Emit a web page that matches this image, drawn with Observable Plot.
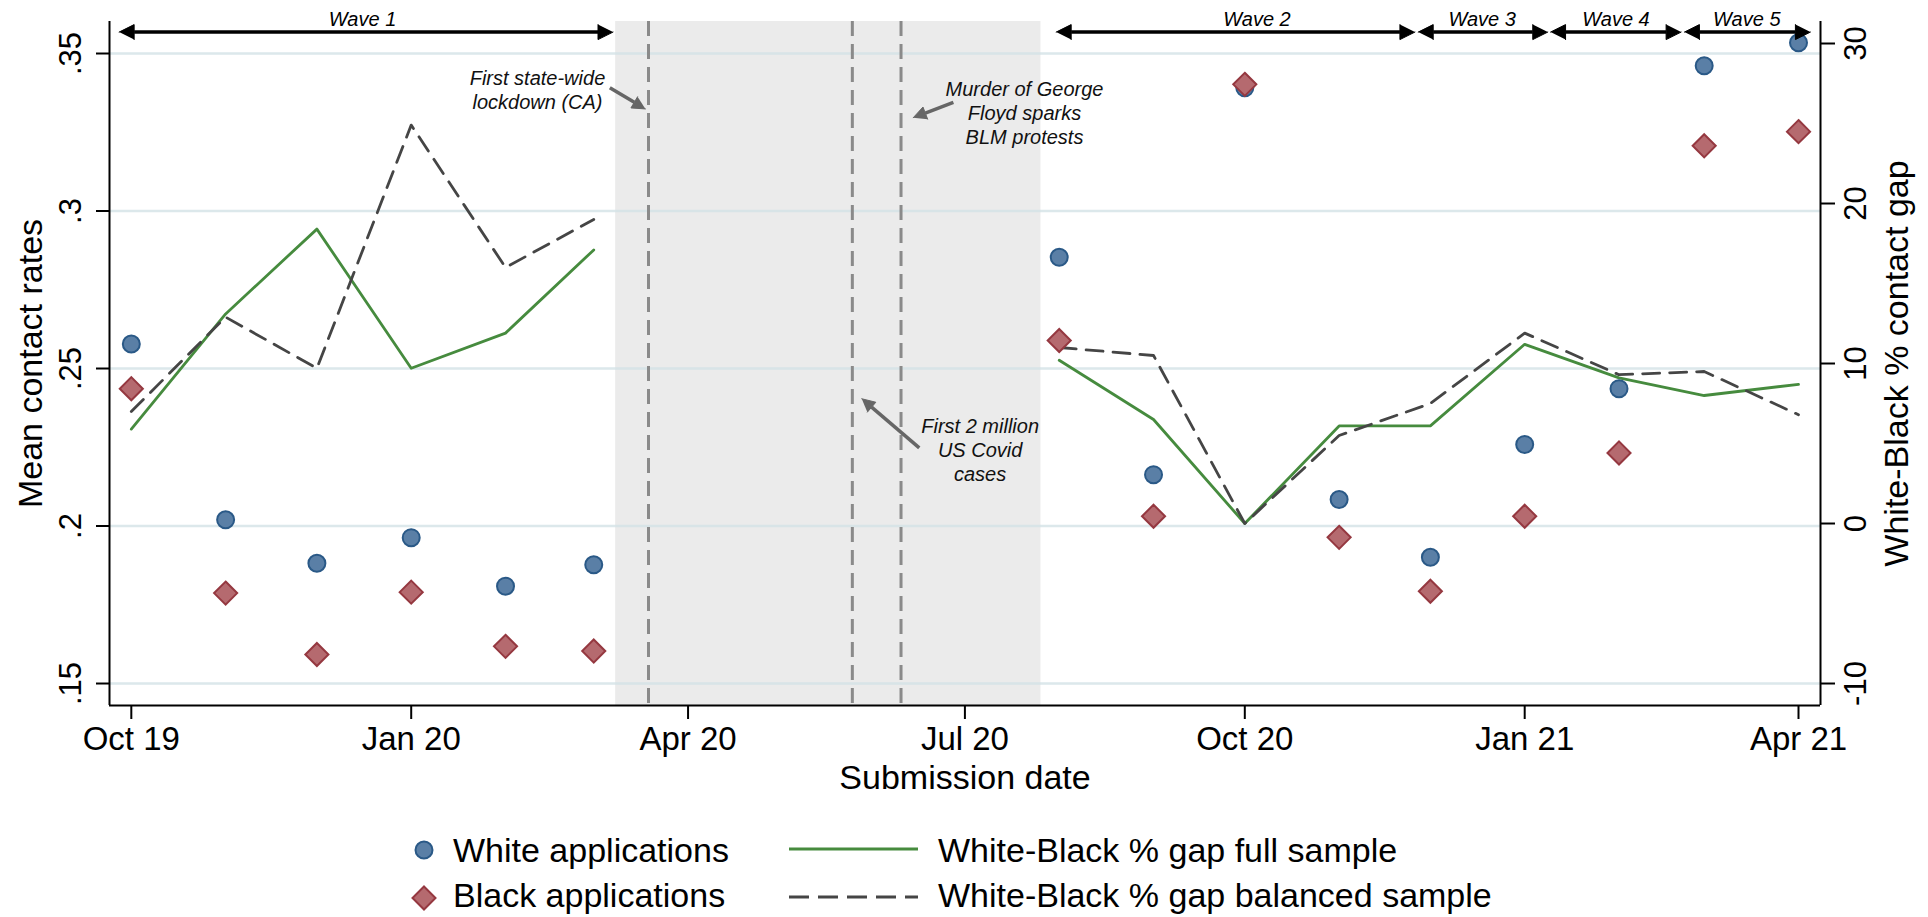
<!DOCTYPE html>
<html><head><meta charset="utf-8">
<script src="https://cdn.jsdelivr.net/npm/d3@7"></script>
<script src="https://cdn.jsdelivr.net/npm/@observablehq/plot@0.6"></script>
<style>
body{margin:0;background:#fff;font-family:"Liberation Sans",Arial,Helvetica,sans-serif;}
#wrap{position:relative;width:1928px;height:917px;overflow:hidden;background:#fff;}
#chart{position:absolute;left:0;top:0;}
.leg{position:absolute;font-size:34px;line-height:34px;color:#000;white-space:nowrap;}
.sym{position:absolute;left:0;top:0;}
</style></head><body>
<div id="wrap"><div id="chart"></div>
<svg class="sym" width="1928" height="917" id="legsym"></svg>
<div id="legend"></div></div>
<script>
// ---------------- data ----------------
const months = ["2019-10-01","2019-11-01","2019-12-01","2020-01-01","2020-02-01","2020-03-01",
  "2020-08-01","2020-09-01","2020-10-01","2020-11-01","2020-12-01","2021-01-01","2021-02-01","2021-03-01","2021-04-01"];
const whiteRates = [0.2578,0.2020,0.1882,0.1963,0.1809,0.1877,0.2853,0.2163,0.3391,0.2084,0.1901,0.2259,0.2436,0.3461,0.3534];
const blackRates = [0.2436,0.1787,0.1592,0.1790,0.1618,0.1603,0.2589,0.2031,0.3402,0.1964,0.1793,0.2031,0.2232,0.3207,0.3252];
const gapFull     = [5.9,13.1,18.4,9.7,11.9,17.1, 10.2,6.5,0.0,6.1,6.1,11.2,9.1,8.0,8.7];
const gapBalanced = [7.0,12.9,9.7,24.9,16.0,19.0, 11.0,10.5,0.0,5.5,7.5,11.9,9.3,9.5,6.8];
const periods = ["pre","pre","pre","pre","pre","pre","post","post","post","post","post","post","post","post","post"];

const leftTicks = [0.15,0.2,0.25,0.3,0.35];
const leftTickLabels = [".15",".2",".25",".3",".35"];
const rightTicks = [-10,0,10,20,30];
const xTicks = ["2019-10-01","2020-01-01","2020-04-01","2020-07-01","2020-10-01","2021-01-01","2021-04-01"];

const waveNames = ["Wave 1","Wave 2","Wave 3","Wave 4","Wave 5"];
const waveStarts = ["2019-09-27","2020-07-31","2020-11-27","2021-01-09T12:00Z","2021-02-22T12:00Z"];
const waveEnds   = ["2020-03-07T08:00Z","2020-11-25T22:00Z","2021-01-08T14:00Z","2021-02-21T10:00Z","2021-04-04T22:00Z"];
const waveLabelDates = ["2019-12-16","2020-10-05","2020-12-18","2021-01-31","2021-03-15"];

const shadeStart = "2020-03-08T05:00Z", shadeEnd = "2020-07-26";
const eventDates = ["2020-03-19","2020-05-25","2020-06-10"];

const noteTexts = ["First state-wide\nlockdown (CA)", "Murder of George\nFloyd sparks\nBLM protests", "First 2 million\nUS Covid\ncases"];
const noteDates = ["2020-02-11T12:00Z","2020-07-20T14:00Z","2020-07-06"];
const noteValues = [0.3387, 0.3312, 0.2244];
const arrowFromDates = ["2020-03-06T07:00Z","2020-06-27T05:00Z","2020-06-16"];
const arrowFromValues = [0.3391, 0.3345, 0.2248];
const arrowToDates = ["2020-03-18","2020-06-14","2020-05-28T02:00Z"];
const arrowToValues = [0.3324, 0.3296, 0.2404];

// ---------------- layout ----------------
const W = 1928, H = 800, ML = 109, MR = 108, MT = 21, MB = 95;
const DAY = 864e5;
const xDomain = [new Date(Date.UTC(2019,9,1) - 7.17*DAY), new Date(Date.UTC(2021,3,1) + 7.23*DAY)];
const yDomain = [0.14302, 0.36016];
const ratePerPoint = 16/3150;            // right axis: gap points -> left-axis units
const gapToRate = g => 0.15 + (g + 10) * ratePerPoint;
const waveArrowY = 0.3568, waveLabelY = 0.3586;
const font = '"Liberation Sans", Arial, Helvetica, sans-serif';

const sx = d3.scaleUtc(xDomain, [ML, W - MR]);
const sy = d3.scaleLinear(yDomain, [H - MB, MT]);

const rows = months.map((m, i) => ({
  date: new Date(m), white: whiteRates[i], black: blackRates[i],
  full: gapToRate(gapFull[i]), bal: gapToRate(gapBalanced[i]), period: periods[i]
}));

// arrow helper: returns shaft end (base of head) and head polygon in data coords
function arrowParts(x1, y1, x2, y2, L, hb, id) {
  const p1 = [sx(x1), sy(y1)], p2 = [sx(x2), sy(y2)];
  const dx = p2[0]-p1[0], dy = p2[1]-p1[1], len = Math.hypot(dx, dy);
  const u = [dx/len, dy/len], n = [-u[1], u[0]];
  const b = [p2[0]-L*u[0], p2[1]-L*u[1]];
  const pts = [p2, [b[0]+hb*n[0], b[1]+hb*n[1]], [b[0]-hb*n[0], b[1]-hb*n[1]]];
  return {
    base: {x: sx.invert(b[0]), y: sy.invert(b[1])},
    head: pts.map(p => ({id, x: sx.invert(p[0]), y: sy.invert(p[1])}))
  };
}

// wave arrows (double-headed)
const waveShafts = [], waveHeads = [];
waveNames.forEach((w, i) => {
  const s = new Date(waveStarts[i]), e = new Date(waveEnds[i]);
  const a = arrowParts(s, waveArrowY, e, waveArrowY, 15, 7.5, w + "e");
  const b = arrowParts(e, waveArrowY, s, waveArrowY, 15, 7.5, w + "s");
  waveShafts.push({x1: b.base.x, x2: a.base.x, y: waveArrowY});
  waveHeads.push(...a.head, ...b.head);
});
const waves = waveNames.map((w, i) => ({name: w, x: new Date(waveLabelDates[i])}));

// annotation arrows
const noteShafts = [], noteHeads = [];
noteTexts.forEach((t, i) => {
  const f = new Date(arrowFromDates[i]), to = new Date(arrowToDates[i]);
  const a = arrowParts(f, arrowFromValues[i], to, arrowToValues[i], 13, 6.5, "n" + i);
  noteShafts.push({x1: f, y1: arrowFromValues[i], x2: a.base.x, y2: a.base.y});
  noteHeads.push(...a.head);
});
const notes = noteTexts.map((t, i) => ({text: t, x: new Date(noteDates[i]), y: noteValues[i]}));

const chart = Plot.plot({
  width: W, height: H,
  marginLeft: ML, marginRight: MR, marginTop: MT, marginBottom: MB,
  style: {fontFamily: font, fontSize: "31px", background: "white", color: "black"},
  x: {type: "utc", domain: xDomain},
  y: {domain: yDomain},
  marks: [
    Plot.rect([{a: new Date(shadeStart), b: new Date(shadeEnd)}], {x1: "a", x2: "b", y1: () => yDomain[0], y2: () => yDomain[1], fill: "#ebebeb"}),
    Plot.ruleY(leftTicks, {stroke: "#d3e2e6", strokeWidth: 2.5, strokeOpacity: 0.8}),
    Plot.ruleX(eventDates.map(d => new Date(d)), {stroke: "#8a8a8a", strokeWidth: 3, strokeDasharray: "15,8"}),
    Plot.line(rows, {x: "date", y: "full", z: "period", stroke: "#468b3e", strokeWidth: 2.8}),
    Plot.line(rows, {x: "date", y: "bal", z: "period", stroke: "#454545", strokeWidth: 2.8, strokeDasharray: "17,10"}),
    Plot.dot(rows, {x: "date", y: "white", r: 8.5, symbol: "circle", fill: "#5a7fa6", stroke: "#2a5987", strokeWidth: 2}),
    Plot.dot(rows, {x: "date", y: "black", r: 10.4, symbol: d3.symbolDiamond2 || "diamond", fill: "#b56a6f", stroke: "#953840", strokeWidth: 2}),
    // wave arrows
    Plot.link(waveShafts, {x1: "x1", x2: "x2", y1: "y", y2: "y", stroke: "black", strokeWidth: 3.5}),
    Plot.line(waveHeads, {x: "x", y: "y", z: "id", fill: "black", stroke: "black", strokeWidth: 1}),
    Plot.text(waves, {x: "x", y: () => waveLabelY, text: "name", fontStyle: "italic", fontSize: 20, lineAnchor: "bottom", fill: "black"}),
    // annotations
    Plot.link(noteShafts, {x1: "x1", y1: "y1", x2: "x2", y2: "y2", stroke: "#666", strokeWidth: 3.5}),
    Plot.line(noteHeads, {x: "x", y: "y", z: "id", fill: "#666", stroke: "#666", strokeWidth: 1}),
    Plot.text(notes, {x: "x", y: "y", text: "text", fontStyle: "italic", fontSize: 20, lineHeight: 1.2, lineAnchor: "middle", fill: "#111"}),
    // frame lines
    Plot.ruleX(xDomain, {stroke: "black", strokeWidth: 2}),
    Plot.ruleY([yDomain[0]], {stroke: "black", strokeWidth: 2}),
    // axes
    Plot.axisX(xTicks.map(d => new Date(d)), {tickSize: 14, tickPadding: 7, tickFormat: d3.utcFormat("%b %y"), fontSize: 33, strokeWidth: 2, label: null}),
    Plot.axisY(leftTicks, {anchor: "left", tickSize: 13, tickPadding: 16, tickRotate: -90, fontSize: 31, strokeWidth: 2, label: null,
      tickFormat: d => leftTickLabels[leftTicks.indexOf(d)]}),
    Plot.axisY(rightTicks.map(gapToRate), {anchor: "right", tickSize: 14, tickPadding: 31, tickRotate: -90, fontSize: 31, strokeWidth: 2, label: null,
      tickFormat: d => String(Math.round((d - 0.15) / ratePerPoint - 10))}),
    // titles
    Plot.text(["Mean contact rates"], {text: d => d, frameAnchor: "left", dx: -68, rotate: -90, textAnchor: "middle", lineAnchor: "bottom", fontSize: 34, fill: "black"}),
    Plot.text(["White-Black % contact gap"], {text: d => d, frameAnchor: "right", dx: 87, rotate: -90, textAnchor: "middle", lineAnchor: "bottom", fontSize: 34, fill: "black"}),
    Plot.text(["Submission date"], {text: d => d, frameAnchor: "bottom", dy: 83, textAnchor: "middle", lineAnchor: "bottom", fontSize: 34, fill: "black"})
  ]
});
document.getElementById("chart").appendChild(chart);

// ---------------- legend ----------------
const legendItems = [
  {label: "White applications", kind: "circle"},
  {label: "Black applications", kind: "diamond"},
  {label: "White-Black % gap full sample", kind: "solid"},
  {label: "White-Black % gap balanced sample", kind: "dashed"}
];
const legPos = [[453, 833, 424, 850], [453, 878, 424, 898], [938, 833, 789, 849], [938, 878, 789, 897]];
const ls = d3.select("#legsym");
const lg = d3.select("#legend");
legendItems.forEach((it, i) => {
  const [tx, ty, sxp, syp] = legPos[i];
  lg.append("div").attr("class", "leg").style("left", tx + "px").style("top", ty + "px").text(it.label);
  if (it.kind === "circle") ls.append("circle").attr("cx", sxp).attr("cy", syp).attr("r", 8.5).attr("fill", "#5a7fa6").attr("stroke", "#2a5987").attr("stroke-width", 2);
  if (it.kind === "diamond") ls.append("path").attr("transform", `translate(${sxp},${syp})`).attr("d", d3.symbol(d3.symbolDiamond2 || d3.symbolDiamond, 337)()).attr("fill", "#b56a6f").attr("stroke", "#953840").attr("stroke-width", 2);
  if (it.kind === "solid") ls.append("line").attr("x1", sxp).attr("x2", sxp + 129).attr("y1", syp).attr("y2", syp).attr("stroke", "#468b3e").attr("stroke-width", 3);
  if (it.kind === "dashed") ls.append("line").attr("x1", sxp).attr("x2", sxp + 129).attr("y1", syp).attr("y2", syp).attr("stroke", "#454545").attr("stroke-width", 3).attr("stroke-dasharray", "20,9");
});
</script></body></html>
